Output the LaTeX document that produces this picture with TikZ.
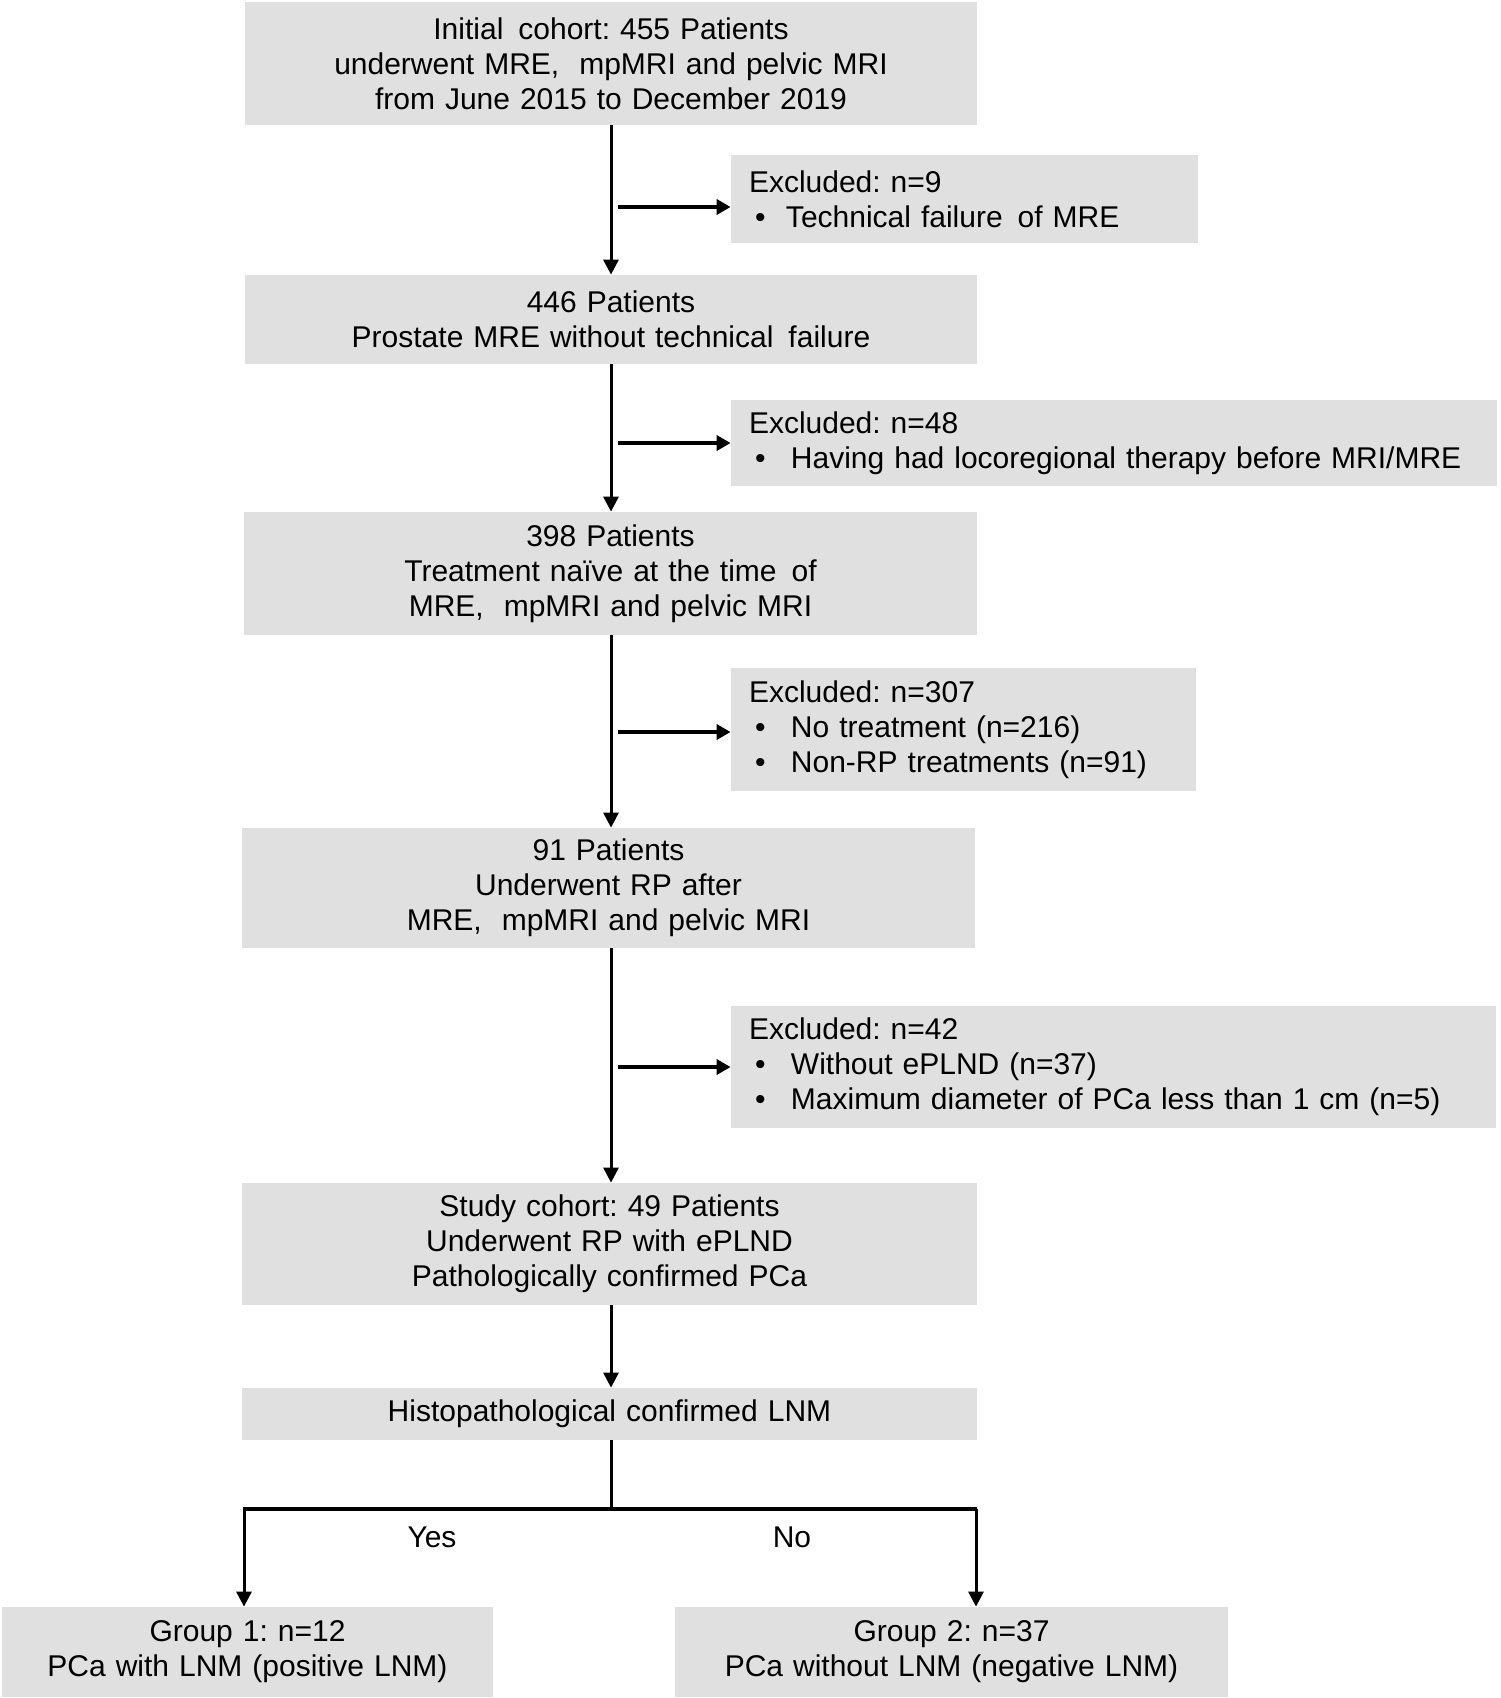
\documentclass[tikz,border=0pt]{standalone}
\usepackage{fontspec}
\setmainfont{Liberation Sans}
\usetikzlibrary{arrows.meta}
\definecolor{boxgray}{RGB}{224,224,224}
\tikzset{
  cbox/.style={fill=boxgray, draw=none, align=center, inner sep=0pt, font=\fontsize{15}{17.5}\selectfont},
  lbox/.style={fill=boxgray, draw=none, align=left, inner xsep=9pt, inner ysep=0pt, font=\fontsize{15}{17.5}\selectfont},
  vline/.style={line width=1.5pt, -{Triangle[length=7.5pt,width=7.5pt]}},
  hline/.style={line width=2.2pt, -{Triangle[length=7pt,width=7.5pt]}},
  plain/.style={line width=1.5pt},
  bar/.style={line width=2.2pt},
}
\newcommand{\itm}[1]{\hspace*{3pt}\makebox[18pt][l]{•}#1}
\frenchspacing
\begin{document}
\begin{tikzpicture}[x=0.5pt,y=-0.5pt]
\path[use as bounding box] (0,0) rectangle (1500,1698);
% main boxes
\node[cbox, minimum width=366pt, minimum height=61.5pt, text width=366pt] (b1) at (611,63.5)
  {Initial\ \,cohort: 455 Patients\\underwent MRE,\ \ mpMRI and pelvic MRI\\from June 2015 to December 2019};
\node[cbox, minimum width=366pt, minimum height=44.5pt, text width=366pt] (b2) at (611,319.5)
  {446 Patients\\Prostate MRE without technical\ \,failure};
\node[cbox, minimum width=366.5pt, minimum height=61.5pt, text width=366.5pt] (b3) at (610.5,573.5)
  {398 Patients\\Treatment naïve at the time\ \,of\\MRE,\ \ mpMRI and pelvic MRI};
\node[cbox, minimum width=366.5pt, minimum height=60pt, text width=366.5pt] (b4) at (608.5,888)
  {91 Patients\\Underwent RP after\\MRE,\ \ mpMRI and pelvic MRI};
\node[cbox, minimum width=367.5pt, minimum height=61pt, text width=367.5pt] (b5) at (609.5,1244)
  {Study cohort: 49 Patients\\Underwent RP with ePLND\\Pathologically confirmed PCa};
\node[cbox, minimum width=367.5pt, minimum height=26pt, text width=367.5pt] (b6) at (609.5,1414)
  {Histopathological confirmed LNM};
% excluded boxes
\node[lbox, minimum width=233.5pt, minimum height=44pt, text width=215.5pt] (e1) at (964.5,199)
  {Excluded: n=9\\\hspace*{3pt}\makebox[15.5pt][l]{•}Technical failure\ \,of MRE};
\node[lbox, minimum width=383pt, minimum height=43pt, text width=365pt] (e2) at (1114,443)
  {Excluded: n=48\\\itm{Having had locoregional therapy before MRI/MRE}};
\node[lbox, minimum width=232.5pt, minimum height=61.5pt, text width=214.5pt] (e3) at (963.5,729.5)
  {Excluded: n=307\\\itm{No treatment (n=216)}\\\itm{Non-RP treatments (n=91)}};
\node[lbox, minimum width=382.5pt, minimum height=61pt, text width=364.5pt] (e4) at (1113.5,1067)
  {Excluded: n=42\\\itm{Without ePLND (n=37)}\\\itm{Maximum diameter of PCa less than 1 cm (n=5)}};
% groups
\node[cbox, minimum width=245.5pt, minimum height=45pt, text width=245.5pt] (g1) at (247.5,1652)
  {Group 1: n=12\\PCa with LNM (positive LNM)};
\node[cbox, minimum width=276.5pt, minimum height=45pt, text width=276.5pt] (g2) at (951.5,1652)
  {Group 2: n=37\\PCa without LNM (negative LNM)};
% spine
\coordinate (sx) at (611,0);
\draw[vline] (b1.south -| sx) -- (b2.north -| sx);
\draw[vline] (b2.south -| sx) -- (b3.north -| sx);
\draw[vline] (b3.south -| sx) -- (b4.north -| sx);
\draw[vline] (b4.south -| sx) -- (b5.north -| sx);
\draw[vline] (b5.south -| sx) -- (b6.north -| sx);
% excluded arrows
\coordinate (a1) at (618,207);
\coordinate (a2) at (618,443);
\coordinate (a3) at (618,732);
\coordinate (a4) at (618,1067);
\draw[hline] (a1) -- (a1 -| e1.west);
\draw[hline] (a2) -- (a2 -| e2.west);
\draw[hline] (a3) -- (a3 -| e3.west);
\draw[hline] (a4) -- (a4 -| e4.west);
% branch
\coordinate (br) at (611,1509);
\coordinate (bl) at (244,1509);
\coordinate (bri) at (976,1509);
\draw[plain] (b6.south -| sx) -- (br);
\draw[bar] ([xshift=-0.6pt]bl) -- ([xshift=0.6pt]bri);
\draw[vline] (bl) -- (bl |- g1.north);
\draw[vline] (bri) -- (bri |- g2.north);
\node[font=\fontsize{15}{17.5}\selectfont] (yes) at (432,1537) {Yes};
\node[font=\fontsize{15}{17.5}\selectfont] (no) at (792,1537) {No};
\end{tikzpicture}
\end{document}
